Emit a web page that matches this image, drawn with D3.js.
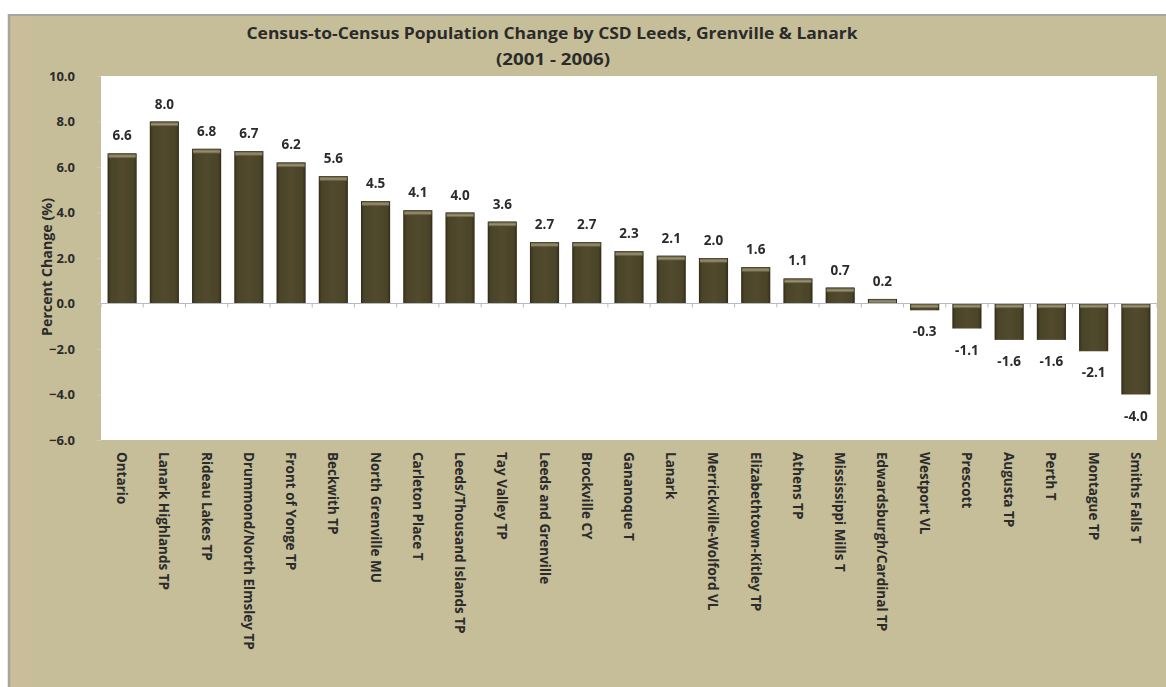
<!DOCTYPE html>
<html>
<head>
<meta charset="utf-8">
<script src="https://cdn.jsdelivr.net/npm/d3@7"></script>
<style>
  html, body { margin: 0; padding: 0; background: #ffffff; }
  svg { display: block; }
  text { font-family: "Open Sans", "Liberation Sans", sans-serif; font-weight: 700; fill: #2b2b2b; }
</style>
</head>
<body>
<svg id="chart" width="1166" height="687"></svg>
<script>
// Census subdivisions, in chart order
const categories = [
  "Ontario", "Lanark Highlands TP", "Rideau Lakes TP", "Drummond/North Elmsley TP",
  "Front of Yonge TP", "Beckwith TP", "North Grenville MU", "Carleton Place T",
  "Leeds/Thousand Islands TP", "Tay Valley TP", "Leeds and Grenville", "Brockville CY",
  "Gananoque T", "Lanark", "Merrickville-Wolford VL", "Elizabethtown-Kitley TP",
  "Athens TP", "Mississippi Mills T", "Edwardsburgh/Cardinal TP", "Westport VL",
  "Prescott", "Augusta TP", "Perth T", "Montague TP", "Smiths Falls T"
];

// Percent change in population, 2001 to 2006
const pctChange = [
  6.6, 8.0, 6.8, 6.7, 6.2, 5.6, 4.5, 4.1, 4.0, 3.6, 2.7, 2.7, 2.3,
  2.1, 2.0, 1.6, 1.1, 0.7, 0.2, -0.3, -1.1, -1.6, -1.6, -2.1, -4.0
];

const yTicks = [10, 8, 6, 4, 2, 0, -2, -4, -6];

const titleLines = [
  "Census-to-Census Population Change by CSD Leeds, Grenville & Lanark",
  "(2001 - 2006)"
];
const yAxisTitle = "Percent Change (%)";

const svg = d3.select("#chart");
const W = 1166, H = 687;
const plot = { left: 101, right: 1157, top: 76, bottom: 440 };

// Panel background with its grey frame
svg.append("rect").attr("x", 8).attr("y", 14).attr("width", W - 8).attr("height", H - 14)
  .attr("fill", "#c6be98");
svg.append("line").attr("x1", 8).attr("x2", W).attr("y1", 15).attr("y2", 15)
  .attr("stroke", "#a7a5a0").attr("stroke-width", 2);
svg.append("line").attr("x1", 9).attr("x2", 9).attr("y1", 14).attr("y2", H)
  .attr("stroke", "#a8a49c").attr("stroke-width", 2.5);
svg.append("rect").attr("x", 11).attr("y", 16).attr("width", 22).attr("height", H - 16)
  .attr("fill", "#cdbf9c").attr("opacity", 0.35);

// Plot area
svg.append("rect")
  .attr("x", plot.left).attr("y", plot.top)
  .attr("width", plot.right - plot.left).attr("height", plot.bottom - plot.top)
  .attr("fill", "#ffffff");

const x = d3.scaleBand().domain(categories).range([plot.left, plot.right]).paddingInner(0.31).paddingOuter(0.155);
const y = d3.scaleLinear().domain([-6, 10]).range([plot.bottom, plot.top]);

// Bar shading
const defs = svg.append("defs");
const hg = defs.append("linearGradient").attr("id", "barFill").attr("x1", 0).attr("x2", 1).attr("y1", 0).attr("y2", 0);
[[0, "#302b18"], [0.1, "#4a4328"], [0.5, "#524a2e"], [0.9, "#4a4328"], [1, "#302b18"]]
  .forEach(([o, c]) => hg.append("stop").attr("offset", o).attr("stop-color", c));
const tg = defs.append("linearGradient").attr("id", "capFill").attr("x1", 0).attr("x2", 0).attr("y1", 0).attr("y2", 1);
[[0, "#3a3420"], [0.35, "#8e8768"], [0.6, "#a39c7e"], [1, "#524a2e"]]
  .forEach(([o, c]) => tg.append("stop").attr("offset", o).attr("stop-color", c));
defs.append("filter").attr("id", "soft").append("feGaussianBlur").attr("stdDeviation", 0.5);

// Y axis
const yAxis = d3.axisLeft(y).tickValues(yTicks).tickFormat(d3.format(".1f")).tickSize(4).tickPadding(22);
const gy = svg.append("g").attr("transform", `translate(${plot.left},0)`).call(yAxis);
gy.select(".domain").remove();
gy.selectAll(".tick line").attr("stroke", "#c9c9c9");
gy.selectAll(".tick text").attr("font-size", 13).attr("fill", "#2b2b2b").attr("dy", "0.34em")
  .attr("font-family", "\"Open Sans\", sans-serif");

// Bars
const bars = svg.append("g").attr("filter", "url(#soft)");
categories.forEach((c, i) => {
  const v = pctChange[i];
  const y0 = y(Math.max(0, v)), y1 = y(Math.min(0, v));
  const bx = x(c), bw = x.bandwidth();
  bars.append("rect").attr("x", bx).attr("y", y0).attr("width", bw).attr("height", Math.max(1, y1 - y0))
    .attr("fill", "url(#barFill)");
  const capH = Math.min(5, Math.max(1, y1 - y0));
  bars.append("rect").attr("x", bx + 1).attr("y", y0).attr("width", bw - 2).attr("height", capH)
    .attr("fill", "url(#capFill)").attr("opacity", 0.85);
});

// Zero line with category ticks
svg.append("line").attr("x1", plot.left).attr("x2", plot.right).attr("y1", y(0)).attr("y2", y(0))
  .attr("stroke", "#b5bac4").attr("stroke-width", 1.2);
const bounds = categories.map(c => x(c) - x.step() * x.paddingInner() / 2).concat([plot.right]);
svg.append("g").selectAll("line").data(bounds).join("line")
  .attr("x1", d => d).attr("x2", d => d).attr("y1", y(0)).attr("y2", y(0) + 4)
  .attr("stroke", "#b5bac4").attr("stroke-width", 1);

// Value labels
svg.append("g").selectAll("text").data(categories).join("text")
  .attr("x", c => x(c) + x.bandwidth() / 2)
  .attr("y", (c, i) => pctChange[i] >= 0 ? y(pctChange[i]) - 13 : y(pctChange[i]) + 26)
  .attr("text-anchor", "middle").attr("font-size", 13.5)
  .text((c, i) => d3.format(".1f")(pctChange[i]).replace("−", "-"));

// Category labels, rotated
svg.append("g").selectAll("text").data(categories).join("text")
  .attr("transform", c => `translate(${x(c) + x.bandwidth() / 2 - 5},452) rotate(90)`)
  .attr("font-size", 13.5)
  .text(c => c);

// Y axis title
svg.append("text")
  .attr("transform", `translate(47,${267}) rotate(-90)`)
  .attr("text-anchor", "middle").attr("dy", "0.34em").attr("font-size", 13.5)
  .attr("textLength", 138).attr("lengthAdjust", "spacingAndGlyphs")
  .text(yAxisTitle);

// Title
svg.append("text").attr("x", 552).attr("y", 39).attr("text-anchor", "middle").attr("font-size", 16)
  .attr("textLength", 611).attr("lengthAdjust", "spacingAndGlyphs").text(titleLines[0]);
svg.append("text").attr("x", 553).attr("y", 65).attr("text-anchor", "middle").attr("font-size", 16)
  .attr("textLength", 114).attr("lengthAdjust", "spacingAndGlyphs").text(titleLines[1]);
</script>
</body>
</html>
